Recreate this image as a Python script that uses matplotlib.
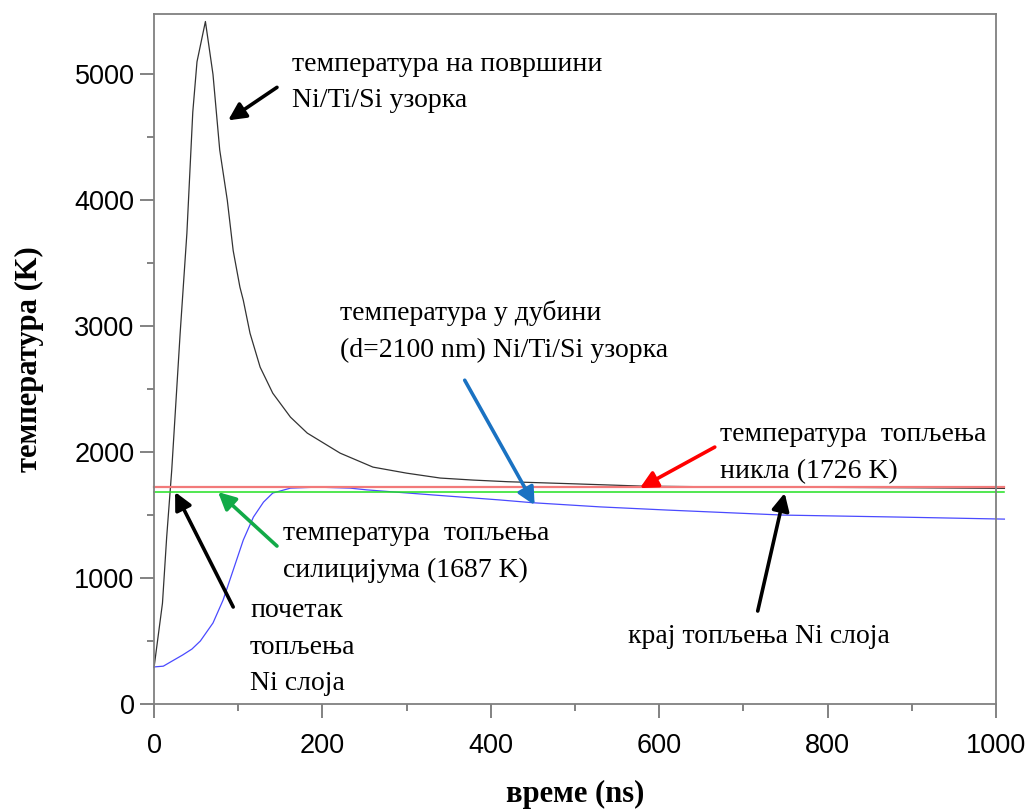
import numpy as np
import matplotlib
matplotlib.use('Agg')
import matplotlib.pyplot as plt

# Data -------------------------------------------------------

t_surf = [0, 10, 15, 21, 31, 39, 46, 51, 61, 70, 78, 87, 94, 102, 106, 114,
          126, 141, 162, 182, 221, 260, 300, 340, 379, 420, 500, 580, 700,
          800, 900, 1010]
T_surf = [290, 800, 1325, 1857, 2944, 3738, 4700, 5100, 5420, 5000, 4400,
          4000, 3600, 3310, 3206, 2944, 2675, 2468, 2278, 2151, 1992, 1881,
          1833, 1794, 1778, 1765, 1748, 1730, 1722, 1720, 1717, 1712]

t_depth = [0, 11, 20, 34, 45, 55, 70, 82, 94, 106, 118, 130, 141, 162, 194,
           233, 253, 331, 411, 450, 530, 609, 747, 886, 1010]
T_depth = [294, 300, 335, 389, 436, 500, 643, 825, 1063, 1302, 1484, 1603,
           1675, 1714, 1722, 1714, 1700, 1660, 1620, 1598, 1565, 1540, 1500,
           1484, 1468]

T_melt_ni = 1726
T_melt_si = 1687
t_end = 1010

serif = 'Liberation Serif'
sans = 'Liberation Sans'

# Plot ========================================================

fig = plt.figure(figsize=(10.27, 8.11), dpi=100)
ax = fig.add_axes([0.15, 0.132, 0.8198, 0.8508])

ax.plot(t_surf, T_surf, c='#333333', lw=0.9, clip_on=False)
ax.plot(t_depth, T_depth, c='#4a4aff', lw=0.9, clip_on=False)
ax.plot([0, t_end], [T_melt_ni, T_melt_ni], c='#f27a7a', lw=1.6, clip_on=False)
ax.plot([0, t_end], [T_melt_si, T_melt_si], c='#22e022', lw=1.1, clip_on=False)

ax.set_xlim(0, 1000)
ax.set_ylim(0, 5480)
ax.set_xticks(np.arange(0, 1001, 200))
ax.set_xticks(np.arange(100, 1000, 200), minor=True)
ax.set_yticks(np.arange(0, 5001, 1000))
ax.set_yticks(np.arange(500, 5001, 1000), minor=True)

for s in ax.spines.values():
    s.set_color('#808080')
    s.set_linewidth(1.3)
ax.tick_params(which='major', length=10, width=1.1, color='#606060',
               labelsize=19.5, direction='out')
ax.tick_params(which='minor', length=5, width=1.1, color='#606060',
               direction='out')
ax.tick_params(axis='x', pad=11)
ax.tick_params(axis='y', pad=4)
for lab in ax.get_xticklabels() + ax.get_yticklabels():
    lab.set_family(sans)

ax.set_xlabel('време (ns)', family=serif, fontsize=22, fontweight='bold',
              labelpad=15)
ax.set_ylabel('температура (K)', family=serif, fontsize=22, fontweight='bold',
              labelpad=22)

# Annotations -------------------------------------------------

def note(text, xy, xytext, tx, ty, color):
    ax.annotate('', xy=xy, xytext=xytext,
                arrowprops=dict(arrowstyle='-|>', color=color, lw=2.6,
                                mutation_scale=26, shrinkA=0, shrinkB=0))
    ax.text(tx, ty, text, family=serif, fontsize=20, ha='left', va='center',
            linespacing=1.6)

note('температура на површини\nNi/Ti/Si узорка',
     (88, 4635), (146, 4897), 164, 4937, 'black')
note('температура у дубини\n(d=2100 nm) Ni/Ti/Si узорка',
     (452, 1579), (369, 2571), 221, 2960, '#1a72c2')
note('температура  топљења\nникла (1726 K)',
     (577, 1714), (666, 2040), 672, 1992, '#ff0000')
note('температура  топљења\nсилицијума (1687 K)',
     (76, 1683), (146, 1254), 153, 1206, '#12aa48')
note('почетак\nтопљења\nNi слоја',
     (25, 1683), (94, 770), 114, 452, 'black')
note('крај топљења Ni слоја',
     (749, 1675), (717, 738), 563, 532, 'black')

plt.savefig('out.png', dpi=100)
